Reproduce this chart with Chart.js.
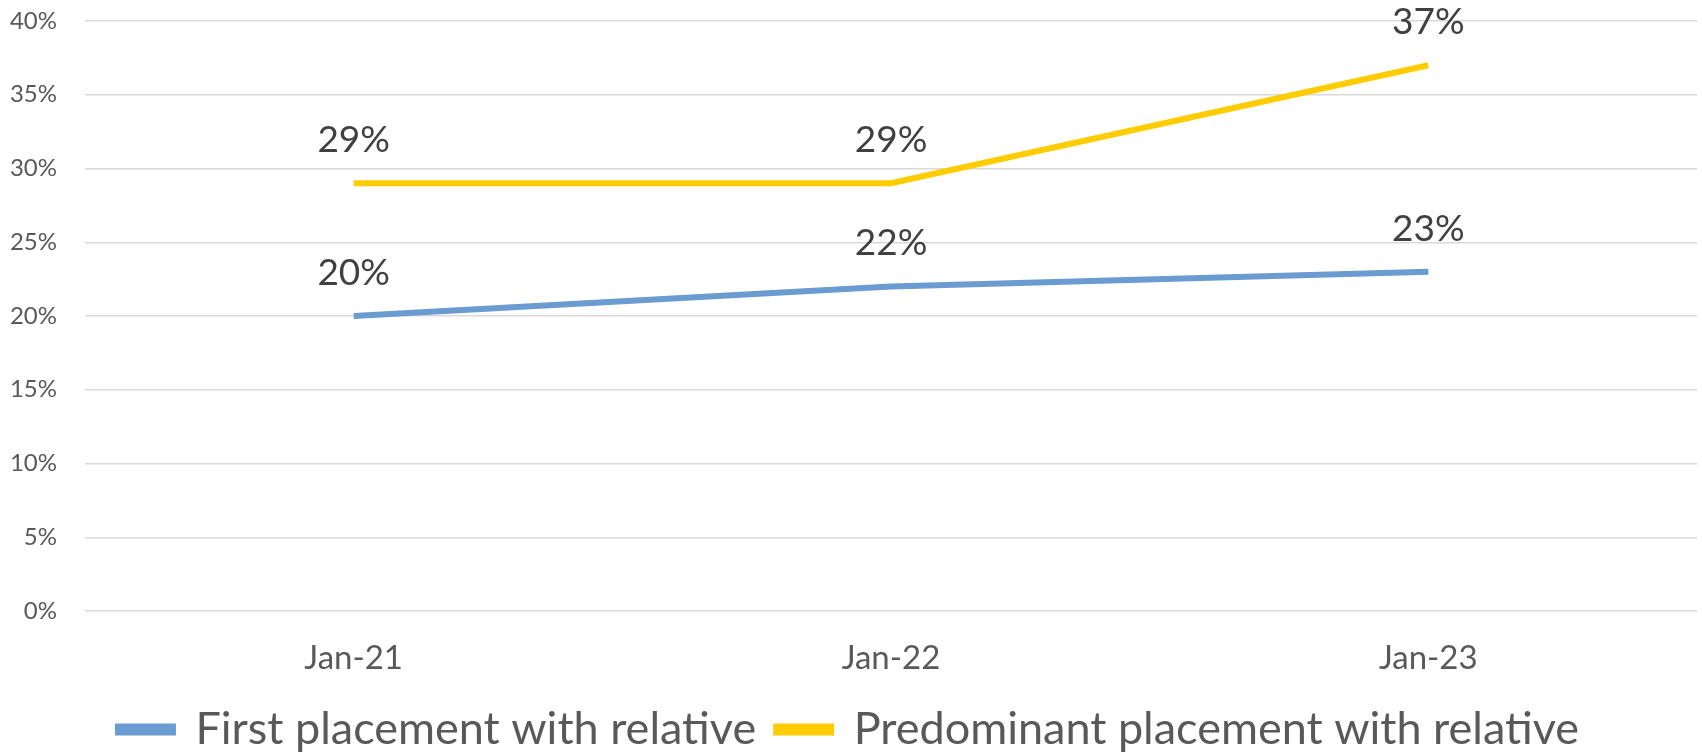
<!DOCTYPE html>
<html>
<head>
<meta charset="utf-8">
<script src="https://cdn.jsdelivr.net/npm/chart.js@4/dist/chart.umd.min.js"></script>
<style>
  html, body { margin: 0; padding: 0; background: #fff; }
  #wrap { width: 1702px; height: 754px; }
</style>
</head>
<body>
<div id="wrap"><canvas id="chart"></canvas></div>
<script>
const categories = ['Jan-21', 'Jan-22', 'Jan-23'];
const firstPlacement = [20, 22, 23];
const predominantPlacement = [29, 29, 37];

// Draws the "29%" style labels above each point
const pointLabels = {
    id: 'pointLabels',
    afterDatasetsDraw(chart) {
        const { ctx } = chart;
        ctx.save();
        ctx.font = '37px Lato';
        ctx.fillStyle = '#404040';
        ctx.textAlign = 'center';
        ctx.textBaseline = 'middle';
        chart.data.datasets.forEach((ds, i) => {
            chart.getDatasetMeta(i).data.forEach((pt, j) => {
                ctx.fillText(ds.data[j] + '%', pt.x, pt.y - 43);
            });
        });
        ctx.restore();
    }
};

const ctx = document.getElementById('chart').getContext('2d');
new Chart(ctx, {
    type: 'line',
    data: {
        labels: categories,
        datasets: [{
            label: 'First placement with relative',
            data: firstPlacement,
            borderColor: '#6A9BD1',
            backgroundColor: '#6A9BD1',
            borderWidth: 6,
            pointRadius: 0,
            tension: 0
        }, {
            label: 'Predominant placement with relative',
            data: predominantPlacement,
            borderColor: '#FFCC00',
            backgroundColor: '#FFCC00',
            borderWidth: 6,
            pointRadius: 0,
            tension: 0
        }]
    },
    options: {
        responsive: true,
        maintainAspectRatio: false,
        animation: false,
        layout: { padding: { top: 21, right: 5, left: 0, bottom: -8 } },
        plugins: {
            legend: {
                position: 'bottom',
                labels: {
                    font: { family: 'Lato', size: 45 },
                    color: '#595959',
                    boxWidth: 55,
                    boxHeight: 6,
                    padding: 20
                }
            },
            tooltip: { enabled: false }
        },
        scales: {
            x: {
                offset: true,
                grid: { display: false },
                border: { display: false },
                ticks: {
                    font: { family: 'Lato', size: 33 },
                    color: '#595959',
                    padding: 20
                },
                afterFit: (scale) => { scale.height = 76; }
            },
            y: {
                min: 0,
                max: 40,
                grid: { color: '#D9D9D9', lineWidth: 1.5, drawTicks: false },
                border: { display: false },
                ticks: {
                    stepSize: 5,
                    font: { family: 'Lato', size: 24 },
                    color: '#595959',
                    padding: 28,
                    callback: (v) => v + '%'
                },
                afterFit: (scale) => {
                    scale.width = 85;
                    scale.paddingTop = 0;
                    scale.paddingBottom = 0;
                }
            }
        }
    },
    plugins: [pointLabels]
});
</script>
</body>
</html>
